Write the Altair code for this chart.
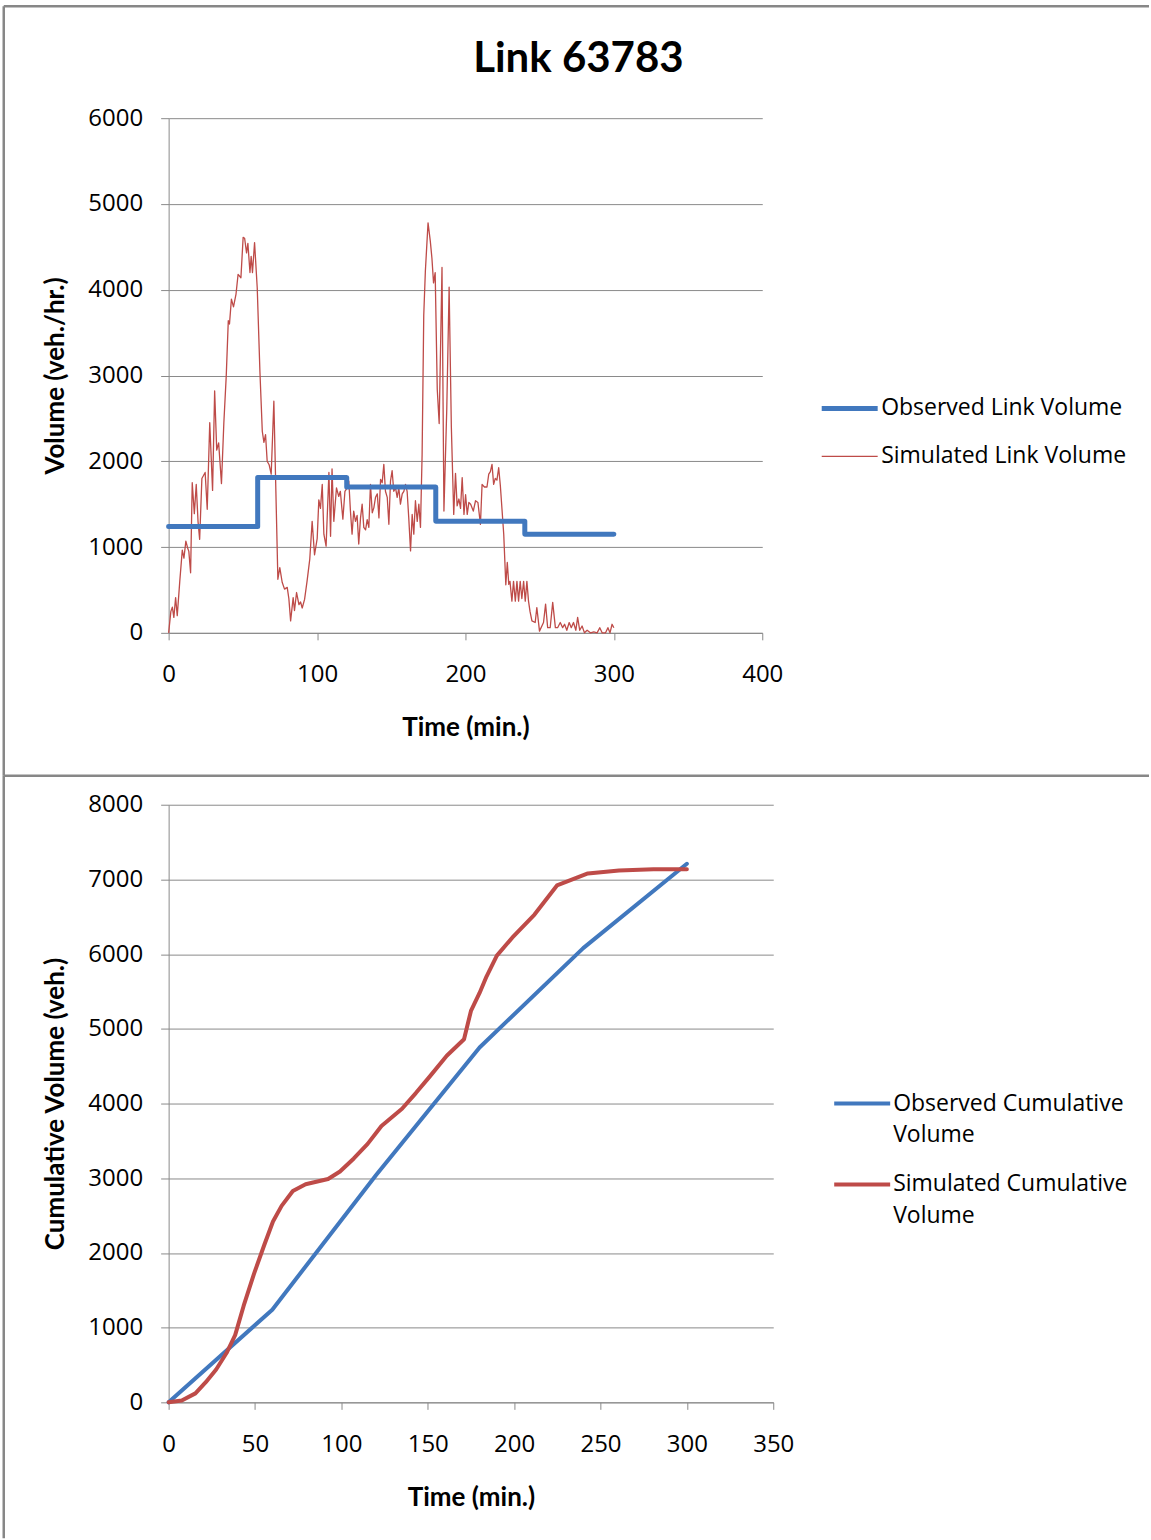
import altair as alt
import pandas as pd

TITLE = "Link 63783"

# ---- Top panel: link volume (veh./hr.) ----
obs_t = [0, 60, 120, 180, 240, 300]
obs_v = [1240, 1810, 1700, 1300, 1150, 1150]

sim_pts = [
    (0, 0), (1.5, 250), (2.5, 300), (3.5, 180), (4.7, 410), (5.8, 200), (7.5, 600),
    (9.2, 965), (10.3, 870), (11.6, 1070), (12.8, 990), (13.6, 950), (14.8, 700),
    (15.9, 1750), (17.3, 1390), (18.6, 1730), (19.8, 1300), (20.9, 1090), (22.4, 1800),
    (24.6, 1870), (26, 1440), (27.7, 2450), (29.6, 1660), (31, 2820), (32.4, 2130),
    (33.7, 2215), (35.6, 1740), (37.2, 2450), (38.8, 2990), (40.2, 3640), (41, 3600),
    (42.3, 3890), (43.7, 3800), (45.4, 3950), (46.8, 4180), (48.7, 4140), (50.2, 4610),
    (51.2, 4600), (52.5, 4430), (53.4, 4540), (54.8, 4200), (55.6, 4390), (56.5, 4200),
    (57.9, 4550), (59.7, 4020), (61.5, 3050), (63.1, 2350), (64.2, 2220), (65.3, 2310),
    (66.4, 2000), (67.7, 1960), (69.1, 1850), (70.9, 2700), (72, 1850), (73.6, 625),
    (74.9, 760), (76.5, 590), (78.1, 510), (79.9, 530), (81, 400), (82.2, 140),
    (83.9, 410), (84.8, 260), (86.2, 470), (87.8, 330), (88.9, 360), (90, 290),
    (91.6, 390), (93.3, 605), (95.1, 860), (96.7, 1300), (98.3, 910), (100.1, 1100),
    (101.2, 1550), (102.3, 1450), (103.5, 1730), (104.6, 1150), (106.1, 1010),
    (108, 1870), (109.1, 1125), (110.1, 1910), (111.3, 1300), (113.1, 1690),
    (114.6, 1590), (115.7, 1650), (117.4, 1325), (118.8, 1650), (120.3, 1690),
    (121.4, 1770), (122.5, 1420), (123.6, 1150), (124.7, 1420), (125.9, 1300),
    (127, 1370), (128.1, 1035), (129.3, 1340), (130.4, 1500), (131.5, 1230),
    (132.7, 1200), (133.8, 1320), (134.9, 1230), (136, 1730), (137.2, 1400),
    (138.3, 1460), (139.4, 1580), (140.6, 1620), (141.7, 1340), (142.8, 1790),
    (143.9, 1750), (145, 1965), (146.1, 1650), (147.3, 1580), (148.4, 1265),
    (149.5, 1770), (150.6, 1890), (151.7, 1650), (152.9, 1690), (154, 1580),
    (155.1, 1690), (156.2, 1500), (157.4, 1620), (158.5, 1650), (159.6, 1730),
    (160.7, 1650), (161.8, 1340), (163, 955), (164.1, 1380), (165.2, 1150),
    (166.3, 1540), (167.5, 1300), (168.6, 1500), (169.7, 1230), (170.8, 2080),
    (171.9, 3700), (173, 4220), (174.8, 4780), (176.3, 4570), (177.4, 4370),
    (178.5, 4080), (179.6, 4200), (181, 2840), (182.3, 2440), (183.2, 3300),
    (184.2, 4260), (185.5, 1420), (187.4, 2600), (189, 4030), (190.5, 2400),
    (192.1, 1380), (193.3, 1860), (194.4, 1480), (195.6, 1560), (196.7, 1450),
    (197.8, 1810), (199, 1380), (200.1, 1610), (201.2, 1380), (202.3, 1520),
    (203.5, 1500), (205.3, 1420), (206.8, 1540), (208.4, 1520), (210.1, 1265),
    (211.2, 1730), (212.8, 1700), (214.5, 1700), (215.7, 1850), (216.8, 1880),
    (217.9, 1965), (219, 1730), (220.1, 1800), (221.2, 1780), (222.4, 1925),
    (223.5, 1720), (225.8, 1150), (227.2, 560), (228.2, 820), (229.2, 565),
    (230, 600), (231.3, 370), (232.4, 600), (233.6, 370), (234.7, 600), (235.8, 370),
    (236.9, 600), (238, 400), (239.2, 600), (240.3, 370), (241.4, 600), (242.5, 370),
    (243.5, 250), (244.8, 140), (247, 120), (248.1, 295), (249.9, 20), (251.5, 80),
    (252.6, 120), (254, 335), (255.4, 60), (257.1, 60), (258.8, 355), (260.6, 60),
    (262.1, 60), (263.9, 120), (265.5, 60), (266.8, 100), (268.3, 30), (269.9, 120),
    (271.3, 60), (272.8, 120), (274.4, 30), (275.6, 180), (277, 30), (278.6, 80),
    (280.2, 0), (282, 30), (284.2, 0), (286.5, 10), (288.7, 0), (290.5, 60),
    (292.1, 0), (294.4, 0), (296, 60), (297.4, 0), (298.8, 100), (300, 60),
]
sim_t = [p[0] for p in sim_pts]
sim_v = [p[1] for p in sim_pts]

# ---- Bottom panel: cumulative volume (veh.) ----
cum_obs_t = [0, 60, 120, 180, 240, 300]
cum_obs_v = [0, 1240, 3040, 4750, 6080, 7210]

cum_sim_t = [0, 7.6, 15.5, 21.5, 27.5, 33.5, 38.5, 43.4, 49.4, 55.4, 60.4, 65.4, 71.9,
             79.3, 92.3, 99.2, 107.2, 115.2, 123.2, 135.1, 143.1, 151.1, 161, 171,
             175, 180, 184, 190, 198.9, 211.8, 224.8, 242.7, 260.7, 280.6, 300]
cum_sim_v = [0, 25, 120, 270, 440, 660, 900, 1290, 1720, 2110, 2420, 2630, 2830,
             2920, 2990, 3090, 3265, 3460, 3700, 3930, 4140, 4360, 4640, 4860,
             5240, 5480, 5700, 5980, 6220, 6530, 6920, 7080, 7120, 7135, 7135]

top_names = ["Observed Link Volume", "Simulated Link Volume"]
bot_names = ["Observed Cumulative|Volume", "Simulated Cumulative|Volume"]

BLUE = "#4178BE"
RED = "#BE4B48"
GRID = "#8A8A8A"
BORDER = "#878787"
LF = "Open Sans"
TF = "Lato"

obs_df = pd.DataFrame({"t": obs_t, "v": obs_v, "series": top_names[0]})
sim_df = pd.DataFrame({"t": sim_t, "v": sim_v, "series": top_names[1]})
cobs_df = pd.DataFrame({"t": cum_obs_t, "v": cum_obs_v, "series": bot_names[0]})
csim_df = pd.DataFrame({"t": cum_sim_t, "v": cum_sim_v, "series": bot_names[1]})
one = pd.DataFrame({"k": [0]})

# ---- top ----
top_legend = alt.Legend(
    title=None, orient="none", legendX=665, legendY=274,
    symbolType="M-2,0H2", symbolSize=784, labelFont=LF, labelFontSize=23,
    labelColor="#000000", labelOffset=15, rowPadding=20.5, padding=0, labelLimit=500,
)
top_x = alt.X("t:Q", scale=alt.Scale(domain=[0, 400]),
              axis=alt.Axis(values=[0, 100, 200, 300, 400], title="Time (min.)", format="d",
                            grid=False, tickSize=7, labelPadding=23, titlePadding=28))
top_y = alt.Y("v:Q", scale=alt.Scale(domain=[0, 6000]),
              axis=alt.Axis(values=list(range(0, 6001, 1000)), title="Volume (veh./hr.)",
                            format="d", grid=True, tickSize=8, labelPadding=18,
                            titlePadding=19))
top_color = alt.Color("series:N", scale=alt.Scale(domain=top_names, range=[BLUE, RED]),
                      legend=top_legend)
top_sw = alt.StrokeWidth("series:N", scale=alt.Scale(domain=top_names, range=[5, 1.3]),
                         legend=top_legend)

obs_line = alt.Chart(obs_df).mark_line(interpolate="step-after", strokeJoin="round",
                                       strokeCap="round").encode(
    x=top_x, y=top_y, color=top_color, strokeWidth=top_sw)
sim_line = alt.Chart(sim_df).mark_line(strokeJoin="round").encode(
    x=top_x, y=top_y, color=top_color, strokeWidth=top_sw)

b_top = alt.Chart(one).mark_rule(color=BORDER, strokeWidth=2.5).encode(
    x=alt.value(-165), x2=alt.value(981), y=alt.value(-112))
b_left1 = alt.Chart(one).mark_rule(color=BORDER, strokeWidth=2.5).encode(
    x=alt.value(-165), y=alt.value(-112), y2=alt.value(658))

top = alt.layer(sim_line, obs_line, b_top, b_left1).properties(
    width=594, height=515,
    title=alt.TitleParams(TITLE, font=TF, fontSize=42, fontWeight="bold", color="#000000",
                          anchor="middle", dx=113, offset=-76),
)

# ---- bottom ----
bot_legend = alt.Legend(
    title=None, orient="none", legendX=678, legendY=283,
    symbolType="M-2,0H2", symbolSize=784, symbolStrokeWidth=4, labelFont=LF,
    labelFontSize=23, labelColor="#000000", labelOffset=15, rowPadding=21, padding=0,
    labelLimit=500, labelExpr="split(datum.label, '|')",
)
bot_x = alt.X("t:Q", scale=alt.Scale(domain=[0, 350]),
              axis=alt.Axis(values=list(range(0, 351, 50)), title="Time (min.)", format="d",
                            grid=False, tickSize=7, labelPadding=23, titlePadding=28))
bot_y = alt.Y("v:Q", scale=alt.Scale(domain=[0, 8000]),
              axis=alt.Axis(values=list(range(0, 8001, 1000)), title="Cumulative Volume (veh.)",
                            format="d", grid=True, tickSize=8, labelPadding=18,
                            titlePadding=19))
bot_color = alt.Color("series:N", scale=alt.Scale(domain=bot_names, range=[BLUE, RED]),
                      legend=bot_legend)

cobs_line = alt.Chart(cobs_df).mark_line(strokeWidth=4, strokeCap="round",
                                         strokeJoin="round").encode(
    x=bot_x, y=bot_y, color=bot_color)
csim_line = alt.Chart(csim_df).mark_line(strokeWidth=4, strokeCap="round",
                                         strokeJoin="round").encode(
    x=bot_x, y=bot_y, color=bot_color)

b_mid = alt.Chart(one).mark_rule(color=BORDER, strokeWidth=2.5).encode(
    x=alt.value(-165), x2=alt.value(981), y=alt.value(-29))
b_left2 = alt.Chart(one).mark_rule(color=BORDER, strokeWidth=2.5).encode(
    x=alt.value(-165), y=alt.value(-29), y2=alt.value(734))

bottom = alt.layer(cobs_line, csim_line, b_mid, b_left2).properties(width=605, height=598)

chart = alt.vconcat(top, bottom, spacing=172, bounds="flush").resolve_scale(
    color="independent", strokeWidth="independent"
).resolve_legend(color="independent", strokeWidth="independent").properties(
    padding={"left": 1.75, "top": 3.75, "right": 0, "bottom": 0},
    background="white",
).configure(
    style={"guide-label": {"lineHeight": 32}}
).configure_view(stroke=None).configure_axis(
    domainColor=GRID, tickColor=GRID, gridColor=GRID, gridWidth=1, domainWidth=1,
    labelFont=LF, labelFontSize=24, labelColor="#000000", labelFlush=False,
    labelOverlap=False, titleFont=TF, titleFontSize=26, titleFontWeight="bold",
    titleColor="#000000",
)

chart.save("out.html", embed_options={"renderer": "svg", "actions": False})
